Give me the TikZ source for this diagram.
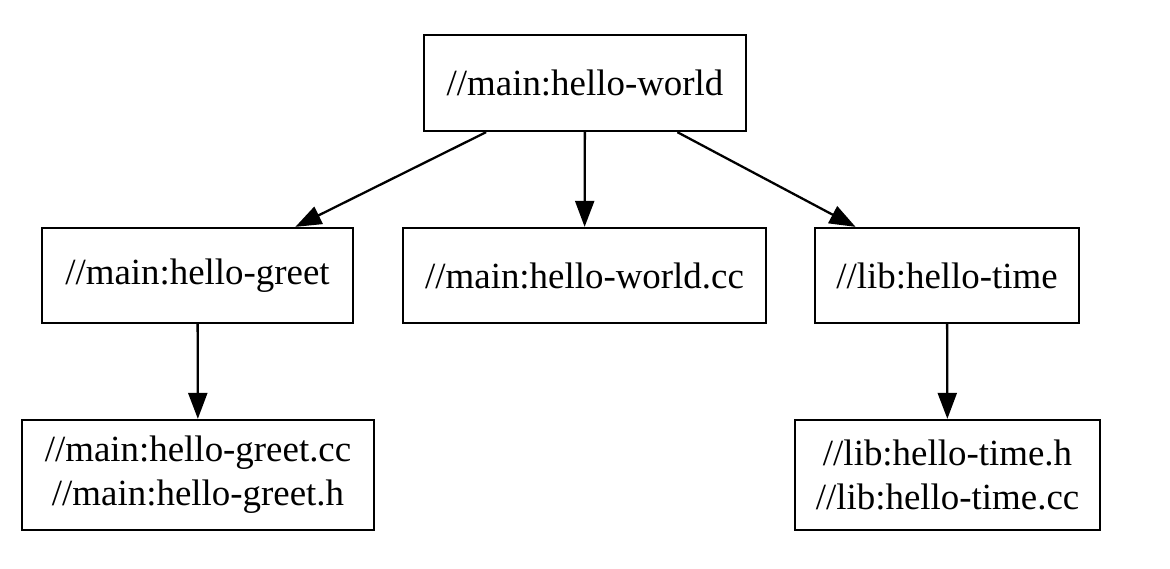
\documentclass[tikz,border=0pt]{standalone}
\usepackage{fontspec}
\setmainfont{Liberation Serif}
\usetikzlibrary{positioning,arrows.meta}
\tikzset{
  target/.style={draw, thick, line width=1.3pt, align=center, inner sep=0pt, font=\fontsize{21}{25}\selectfont},
  arrow/.style={-{Triangle[length=0.52cm, width=0.38cm]}, line width=1.3pt}
}

\begin{document}
\begin{tikzpicture}
    \useasboundingbox (0,0) rectangle (23.4,-11.36);
    \node[target, minimum width=6.44cm, minimum height=1.92cm] (world) at (11.7,-1.66) {//main:hello-world};
    \node[target, minimum width=6.22cm, minimum height=1.9cm] (greet) at (3.95,-5.51) {//main:hello-greet};
    \node[target, minimum width=7.26cm, minimum height=1.9cm] (worldsrc) at (11.69,-5.51) {//main:hello-world.cc};
    \node[target, minimum width=5.28cm, minimum height=1.9cm] (time) at (18.94,-5.51) {//lib:hello-time};
    \node[target, minimum width=7.04cm, minimum height=2.2cm] (greetsrc) at (3.96,-9.5) {//main:hello-greet.cc\\//main:hello-greet.h};
    \node[target, minimum width=6.1cm, minimum height=2.2cm] (timesrc) at (18.95,-9.5) {//lib:hello-time.h\\//lib:hello-time.cc};
    \draw[arrow] (world) -- (greet);
    \draw[arrow] (world) -- (worldsrc);
    \draw[arrow] (world) -- (time);
    \draw[arrow] (greet) -- (greetsrc);
    \draw[arrow] (time) -- (timesrc);
  \end{tikzpicture}
\end{document}
